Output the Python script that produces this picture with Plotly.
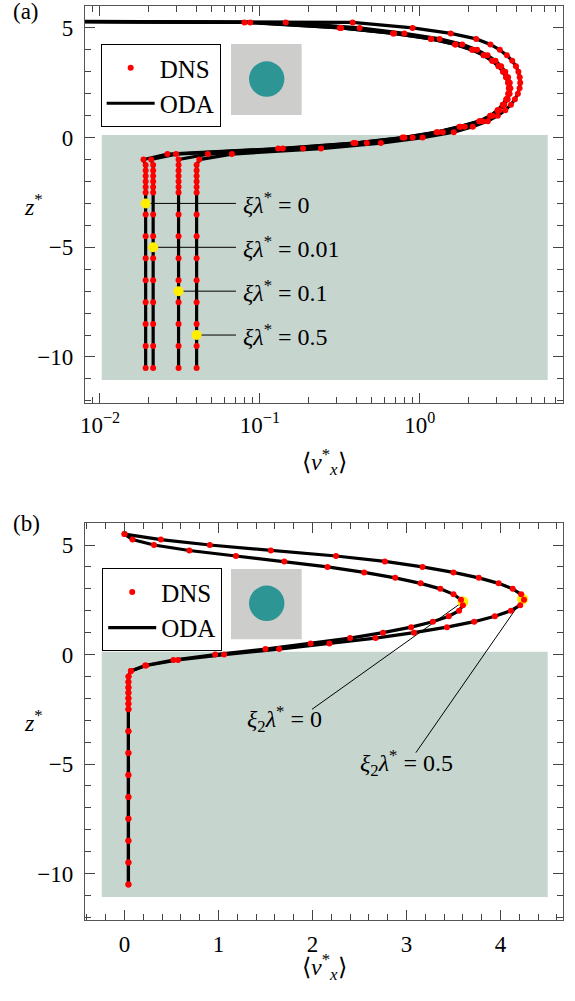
import math
import plotly.graph_objects as go

FONT = "Liberation Serif"

# ---------------- Panel (a) data ----------------
Z_A = [5.25, 5.0, 4.75, 4.5, 4.25, 4.0, 3.75, 3.5, 3.25, 3.0, 2.75, 2.5, 2.25, 2.0,
       1.75, 1.5, 1.25, 1.0, 0.75, 0.5, 0.25, 0.0, -0.25, -0.5, -0.75, -1.0,
       -1.25, -1.5, -1.75, -2.0, -2.25, -2.5, -3.5, -4.5, -5.5, -6.5, -7.5, -8.5, -9.5, -10.5]

V_A_0 = [0.080, 0.316, 0.68, 1.17, 1.66, 2.12, 2.50, 2.83, 3.10, 3.31, 3.46, 3.56, 3.60, 3.57,
         3.47, 3.30, 3.06, 2.75, 2.35, 1.77, 1.27, 0.78, 0.385, 0.130, 0.0264, 0.0187,
         0.0193, 0.0193, 0.0193, 0.0193, 0.0193, 0.0193, 0.0193, 0.0193, 0.0193, 0.0193,
         0.0193, 0.0193, 0.0193, 0.0193]
V_A_001 = [0.087, 0.322, 0.69, 1.18, 1.67, 2.13, 2.51, 2.84, 3.11, 3.32, 3.47, 3.57, 3.61, 3.58,
           3.48, 3.31, 3.07, 2.77, 2.37, 1.80, 1.29, 0.80, 0.395, 0.139, 0.0299, 0.0209,
           0.0215, 0.0215, 0.0215, 0.0215, 0.0215, 0.0215, 0.0215, 0.0215, 0.0215, 0.0215,
           0.0215, 0.0215, 0.0215, 0.0215]
V_A_01 = [0.145, 0.42, 0.80, 1.33, 1.84, 2.28, 2.65, 2.97, 3.22, 3.42, 3.56, 3.65, 3.68, 3.64,
          3.54, 3.37, 3.14, 2.84, 2.46, 1.91, 1.39, 0.90, 0.466, 0.186, 0.0473, 0.031,
          0.031, 0.031, 0.031, 0.031, 0.031, 0.031, 0.031, 0.031, 0.031, 0.031,
          0.031, 0.031, 0.031, 0.031]
V_A_05 = [0.38, 0.90, 1.56, 2.25, 2.76, 3.16, 3.50, 3.78, 3.99, 4.13, 4.21, 4.24, 4.20, 4.10,
          3.93, 3.71, 3.42, 3.07, 2.66, 2.14, 1.63, 1.04, 0.57, 0.241, 0.0668, 0.0418,
          0.0402, 0.0402, 0.0402, 0.0402, 0.0402, 0.0402, 0.0402, 0.0402, 0.0402, 0.0402,
          0.0402, 0.0402, 0.0402, 0.0402]
CURVES_A = [V_A_0, V_A_001, V_A_01, V_A_05]

# wall point of the model curves (velocity -> 0 at the top wall)
Z_WALL = 5.5
V_WALL_LOG = 1e-9

# callouts of panel (a)
MARK_A_V = [0.0193, 0.0215, 0.031, 0.0402]
MARK_A_Z = [-3, -5, -7, -9]
LABEL_A = ["0", "0.01", "0.1", "0.5"]
LABEL_A_V = 0.076      # left edge of labels
LEADER_A_END = 0.0708  # end of leader lines

# ---------------- Panel (b) data ----------------
Z_B = [5.5] + Z_A
V_B_0 = [0.0, 0.085, 0.314, 0.69, 1.185, 1.70, 2.16, 2.55, 2.88, 3.15, 3.36, 3.50, 3.58, 3.60,
         3.56, 3.45, 3.28, 3.05, 2.75, 2.40, 1.98, 1.50, 0.965, 0.52, 0.22, 0.068, 0.043,
         0.042, 0.042, 0.042, 0.042, 0.042, 0.042, 0.042, 0.042, 0.042, 0.042,
         0.042, 0.042, 0.042, 0.042]
V_B_05 = [0.0, 0.387, 0.908, 1.557, 2.25, 2.77, 3.17, 3.50, 3.77, 3.98, 4.13, 4.22, 4.25, 4.21,
          4.11, 3.94, 3.72, 3.43, 3.08, 2.67, 2.18, 1.645, 1.06, 0.57, 0.23, 0.068, 0.043,
          0.042, 0.042, 0.042, 0.042, 0.042, 0.042, 0.042, 0.042, 0.042, 0.042,
          0.042, 0.042, 0.042, 0.042]
CURVES_B = [V_B_0, V_B_05]

MARK_B_V = [3.60, 4.235]
MARK_B_Z = [2.41, 2.53]
LABEL_B = ["0", "0.5"]
LABEL_B_V = [1.70, 3.00]
LABEL_B_Z = [-2.95, -4.95]
LEADER_B_V = [1.995, 3.10]
LEADER_B_Z = [-2.50, -4.48]

# tick values
XA_MAJOR = [0.01, 0.1, 1]
XA_MAJOR_TEXT = ["10<sup>\u22122</sup>", "10<sup>\u22121</sup>", "10<sup>0</sup>"]
XA_MINOR = [0.009] + [k * 0.01 for k in range(2, 10)] + [k * 0.1 for k in range(2, 10)] + [k * 1.0 for k in range(2, 8)]

RED = "#ff0000"
YEL = "#ffee00"
SAND = "#c7d5cf"
FRAME = "#555555"

fig = go.Figure()

# ---- panel (a) ----
for i, v in enumerate(CURVES_A):
    fig.add_trace(go.Scatter(x=[V_WALL_LOG] + v, y=[Z_WALL] + Z_A, mode="lines",
                             line=dict(color="black", width=3.2),
                             name="ODA", legend="legend", showlegend=(i == 0),
                             xaxis="x", yaxis="y", hoverinfo="skip"))
for mv, mz in zip(MARK_A_V, MARK_A_Z):
    fig.add_trace(go.Scatter(x=[mv, LEADER_A_END], y=[mz, mz], mode="lines",
                             line=dict(color="black", width=1), showlegend=False,
                             xaxis="x", yaxis="y", hoverinfo="skip"))
fig.add_trace(go.Scatter(x=MARK_A_V, y=MARK_A_Z, mode="markers",
                         marker=dict(color=YEL, size=10), showlegend=False,
                         xaxis="x", yaxis="y"))
for i, v in enumerate(CURVES_A):
    fig.add_trace(go.Scatter(x=v, y=Z_A, mode="markers",
                             marker=dict(color=RED, size=6),
                             name="DNS", legend="legend", showlegend=(i == 0),
                             xaxis="x", yaxis="y"))

# ---- panel (b) ----
for i, v in enumerate(CURVES_B):
    fig.add_trace(go.Scatter(x=v, y=Z_B, mode="lines",
                             line=dict(color="black", width=3.2),
                             name="ODA", legend="legend2", showlegend=(i == 0),
                             xaxis="x2", yaxis="y2", hoverinfo="skip"))
for mv, mz, lv, lz in zip(MARK_B_V, MARK_B_Z, LEADER_B_V, LEADER_B_Z):
    fig.add_trace(go.Scatter(x=[mv, lv], y=[mz, lz], mode="lines",
                             line=dict(color="black", width=1), showlegend=False,
                             xaxis="x2", yaxis="y2", hoverinfo="skip"))
fig.add_trace(go.Scatter(x=MARK_B_V, y=MARK_B_Z, mode="markers",
                         marker=dict(color=YEL, size=11), showlegend=False,
                         xaxis="x2", yaxis="y2"))
for i, v in enumerate(CURVES_B):
    fig.add_trace(go.Scatter(x=v, y=Z_B, mode="markers",
                             marker=dict(color=RED, size=6),
                             name="DNS", legend="legend2", showlegend=(i == 0),
                             xaxis="x2", yaxis="y2"))

# legend order: DNS first
fig.update_traces(legendrank=2, selector=dict(name="ODA"))
fig.update_traces(legendrank=1, selector=dict(name="DNS"))

tickfont = dict(family=FONT, size=23, color="black")
common_axis = dict(showline=True, linecolor=FRAME, linewidth=1.3, mirror="ticks",
                   ticks="inside", ticklen=10, tickcolor="#444444", tickwidth=1,
                   showgrid=False, zeroline=False, tickfont=tickfont)
minor_style = dict(ticklen=6, ticks="inside", tickcolor="#444444", tickwidth=1)

legend_style = dict(xanchor="left", yanchor="top",
                    bgcolor="white", bordercolor="black", borderwidth=1,
                    font=dict(family=FONT, size=25), tracegroupgap=0, itemwidth=48)

fig.update_layout(
    width=575, height=1001,
    margin=dict(l=85, r=12, t=6, b=81),
    paper_bgcolor="white", plot_bgcolor="white",
    font=dict(family=FONT, color="black"),
    xaxis=dict(type="log", domain=[0, 1], anchor="y",
               range=[math.log10(0.00806), math.log10(7.85)],
               tickvals=XA_MAJOR, ticktext=XA_MAJOR_TEXT, ticklabelstandoff=1,
               minor=dict(tickvals=XA_MINOR, **minor_style),
               **common_axis),
    yaxis=dict(domain=[0.5656, 1], anchor="x", range=[-12.1, 6.0],
               tick0=0, dtick=5, ticklabelstandoff=6,
               minor=dict(dtick=1, **minor_style),
               **common_axis),
    xaxis2=dict(domain=[0, 1], anchor="y2", range=[-0.42, 4.665],
                tick0=0, dtick=1, ticklabelstandoff=3,
                minor=dict(dtick=0.2, **minor_style),
                **common_axis),
    yaxis2=dict(domain=[0, 0.4347], anchor="x2", range=[-12.12, 6.02],
                tick0=0, dtick=5, ticklabelstandoff=6,
                minor=dict(dtick=1, **minor_style),
                **common_axis),
    legend=dict(x=0.0328, y=0.9584, **legend_style),
    legend2=dict(x=0.036, y=0.3848, **legend_style),
    showlegend=True,
)

shapes = []
for xa, ya, gy0, gy1, cy0, cy1 in [("x", "y", 0.7254, 0.9043, 0.7715, 0.8607),
                                   ("x2", "y2", 0.7065, 0.8835, 0.7526, 0.8417)]:
    shapes.append(dict(type="rect", xref=xa + " domain", yref=ya + " domain",
                       x0=0.035, x1=0.968, y0=0.058, y1=0.675,
                       fillcolor=SAND, line=dict(width=0), layer="below"))
    shapes.append(dict(type="rect", xref=xa + " domain", yref=ya + " domain",
                       x0=0.3054, x1=0.4533, y0=gy0, y1=gy1,
                       fillcolor="#cdcecb", line=dict(width=0), layer="below"))
    shapes.append(dict(type="circle", xref=xa + " domain", yref=ya + " domain",
                       x0=0.3431, x1=0.4172, y0=cy0, y1=cy1,
                       fillcolor="#2e9595", line=dict(width=0), layer="below"))
fig.update_layout(shapes=shapes)


def px2paper(px, py):
    return (px - 85) / 478, (920 - py) / 914


ann = []
lab_font = dict(family=FONT, size=24, color="black")
for mz, t in zip(MARK_A_Z, LABEL_A):
    ann.append(dict(x=math.log10(LABEL_A_V), y=mz, xref="x", yref="y",
                    text="<i>\u03be\u03bb</i><sup>*</sup> = " + t, showarrow=False,
                    xanchor="left", yanchor="middle", font=lab_font))
for lv, lz, t in zip(LABEL_B_V, LABEL_B_Z, LABEL_B):
    ann.append(dict(x=lv, y=lz, xref="x2", yref="y2",
                    text="<i>\u03be</i><sub>2</sub><i>\u03bb</i><sup>*</sup> = " + t,
                    showarrow=False, xanchor="center", yanchor="middle", font=lab_font))
# axis titles
for cy in [462, 967]:
    x0, y0 = px2paper(324, cy)
    ann.append(dict(x=x0, y=y0, xref="paper", yref="paper",
                    text="\u27e8<i>v</i><sup>*</sup><sub><i>x</i></sub>\u27e9",
                    showarrow=False, xanchor="center", yanchor="middle",
                    font=dict(family=FONT, size=24, color="black")))
for ya in ["y", "y2"]:
    ann.append(dict(x=(33 - 85) / 478, y=0.5, xref="paper", yref=ya + " domain",
                    text="<i>z</i><sup>*</sup>", showarrow=False,
                    xanchor="center", yanchor="middle", font=lab_font))
for txt, (px, py) in [("(a)", (26, 11)), ("(b)", (26, 523))]:
    xx, yy = px2paper(px, py)
    ann.append(dict(x=xx, y=yy, xref="paper", yref="paper", text=txt, showarrow=False,
                    xanchor="center", yanchor="middle",
                    font=dict(family=FONT, size=23, color="black")))
fig.update_layout(annotations=ann)

fig.write_html("out.html",
               config={"displayModeBar": False},
               post_script="document.body.style.margin='0px';document.body.style.overflow='hidden';")
